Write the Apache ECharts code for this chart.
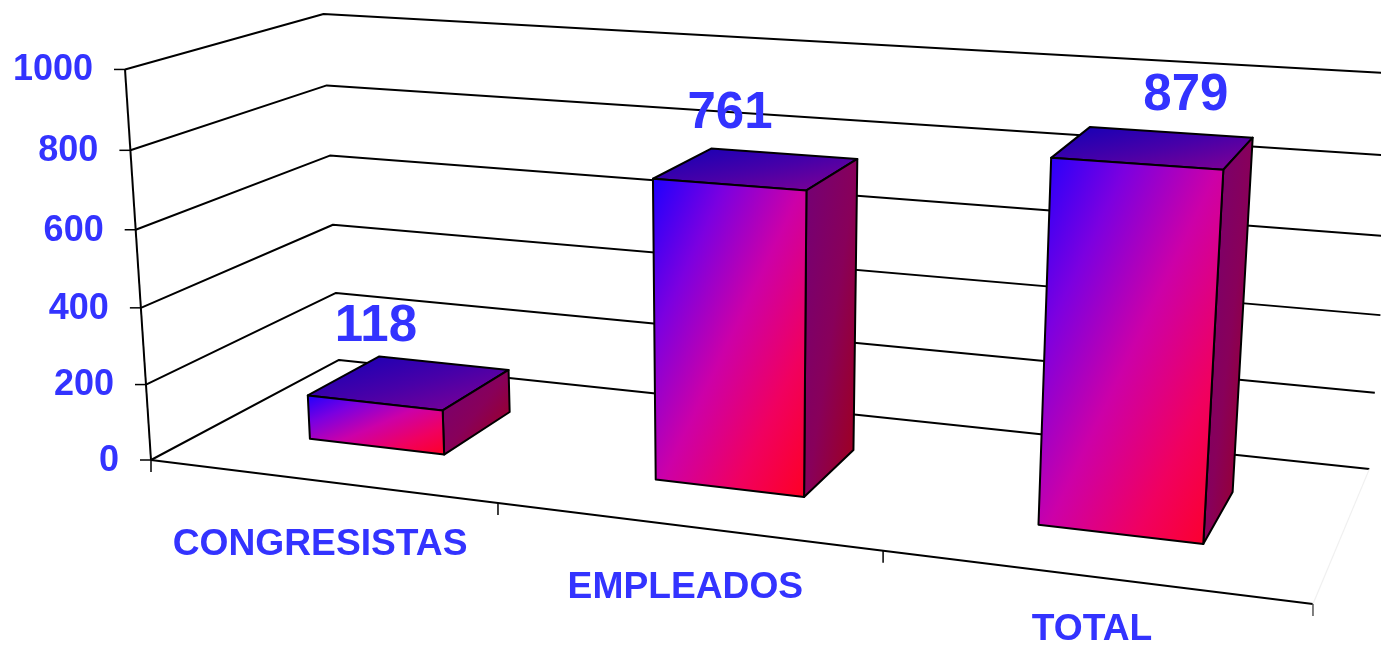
<!DOCTYPE html>
<html>
<head>
<meta charset="utf-8">
<style>html,body{margin:0;padding:0;background:#fff}#c{width:1381px;height:646px}</style>
<script src="https://cdn.jsdelivr.net/npm/echarts@6/dist/echarts.min.js"></script>
</head>
<body>
<div id="c"></div>
<script>
// ---- data ----
const categories = ['CONGRESISTAS', 'EMPLEADOS', 'TOTAL'];
const values = [118, 761, 879];
const yTicks = [0, 200, 400, 600, 800, 1000];

// ---- camera: homogeneous projection of the chart box (u along, v deep, h up; each 0..1) ----
const CAM = {
  u: [967, 54.3, -0.1485],
  v: [234.07, -51.1, 0.1359],
  h: [-31.3, -393.5, -0.0425],
  o: [151, 460, 1]
};
function project(u, v, h) {
  const p = [0, 1, 2].map(i => CAM.u[i] * u + CAM.v[i] * v + CAM.h[i] * h + CAM.o[i]);
  return [p[0] / p[2], p[1] / p[2]];
}

// ---- style and layout ----
const BLUE = '#3333ff';
const FONT = 'bold {s}px "Liberation Sans", Arial, sans-serif';
const font = s => FONT.replace('{s}', s);
const LINE = { stroke: '#000', lineWidth: 2, fill: 'none', lineJoin: 'round' };
const BAR_FRACTION = 0.4, DEPTH_FRONT = 0.3, DEPTH_BACK = 0.7;
const VALUE_LABEL_NUDGE = [[-34, -56], [-27, -55], [32, -52]];
const CAT_LABEL_NUDGE = [[0, 64], [0, 62], [0, 53]];

// corner-to-corner gradient whose colour bands run parallel to the box's other diagonal
function grad(pts, stops) {
  const xs = pts.map(p => p[0]), ys = pts.map(p => p[1]);
  const w = Math.max(...xs) - Math.min(...xs), h = Math.max(...ys) - Math.min(...ys);
  const n = h * h + w * w;
  return new echarts.graphic.LinearGradient(0, 0, 2 * h * h / n, 2 * w * w / n,
    stops.map((color, i) => ({ offset: i / (stops.length - 1), color })));
}

// turn a data item into box coordinates using the (hidden) cartesian axes
function toBox(api, params, cat, val) {
  const cs = params.coordSys;
  const pt = api.coord([cat, val]);
  return { u: (pt[0] - cs.x) / cs.width, h: 1 - (pt[1] - cs.y) / cs.height, band: api.size([1, 0])[0] / cs.width };
}
const line = (pts, st) => ({ type: 'polyline', silent: true, shape: { points: pts }, style: Object.assign({}, LINE, st || {}) });
const text = (x, y, t, size, align) => ({ type: 'text', silent: true, x, y,
  style: { text: t, font: font(size), fill: BLUE, align: align || 'center', verticalAlign: 'middle' } });

function renderGrid(params, api) {
  const b = toBox(api, params, 0, api.value(1));
  const a = project(0, 0, b.h), c = project(0, 1, b.h), d = project(1, 1, b.h);
  return { type: 'group', children: [
    line([a, c, d]),
    line([[a[0] - 11, a[1]], a], { lineWidth: 1.5 }),
    text(a[0] - 32, a[1] + 1, String(api.value(1)), 36, 'right')
  ] };
}

function renderFrame() {
  return { type: 'group', children: [
    line([project(0, 0, 0), project(0, 0, 1)]),
    line([project(0, 0, 0), project(1, 0, 0)]),
    line([project(1, 0, 0), project(1, 1, 0)], { stroke: '#f0f0f0', lineWidth: 1.2 })
  ] };
}

function renderCategory(params, api) {
  const i = api.value(0);
  const b = toBox(api, params, i, 0);
  const children = [];
  const l = b.u - b.band / 2, r = b.u + b.band / 2;
  const t0 = project(l, 0, 0);
  children.push(line([t0, [t0[0], t0[1] + 12]], { lineWidth: 1.5 }));
  if (i === categories.length - 1) {
    const t1 = project(r, 0, 0);
    children.push(line([t1, [t1[0], t1[1] + 12]], { stroke: '#555', lineWidth: 1.5 }));
  }
  const c = project(b.u, 0, 0), n = CAT_LABEL_NUDGE[i];
  children.push(text(c[0] + n[0], c[1] + n[1], categories[i], 37.2));
  return { type: 'group', children };
}

function renderBar(params, api) {
  const i = api.value(0);
  const b = toBox(api, params, i, api.value(1));
  const l = b.u - b.band * BAR_FRACTION / 2, r = b.u + b.band * BAR_FRACTION / 2;
  const f = DEPTH_FRONT, k = DEPTH_BACK, h = b.h;
  const face = (pts, stops) => ({ type: 'polygon', silent: true, shape: { points: pts },
    style: { fill: grad(pts, stops), stroke: '#000', lineWidth: 2, lineJoin: 'round' } });
  return { type: 'group', children: [
    face([project(l, f, h), project(l, k, h), project(r, k, h), project(r, f, h)],
      ['#1000b8', '#4800a8', '#8a0090']),
    face([project(r, f, h), project(r, k, h), project(r, k, 0), project(r, f, 0)],
      ['#720078', '#88005a', '#a50010']),
    face([project(l, f, h), project(r, f, h), project(r, f, 0), project(l, f, 0)],
      ['#1c00ff', '#7c00e0', '#cc00a8', '#f00060', '#ff0020'])
  ] };
}

function renderValueLabel(params, api) {
  const i = api.value(0);
  const b = toBox(api, params, i, api.value(1));
  const c = project(b.u, 0.5, b.h), n = VALUE_LABEL_NUDGE[i];
  return text(c[0] + n[0], c[1] + n[1], String(api.value(1)), 51);
}

const chart = echarts.init(document.getElementById('c'), null, { renderer: 'canvas' });
const barData = values.map((v, i) => [i, v]);
const custom = (name, renderItem, data, z) => ({ type: 'custom', name, renderItem, data, z,
  encode: { x: 0, y: 1 }, clip: false, silent: true, animation: false });
chart.setOption({
  animation: false,
  backgroundColor: '#fff',
  grid: { left: 0, right: 0, top: 0, bottom: 0 },
  xAxis: { type: 'category', data: categories, show: false },
  yAxis: { type: 'value', min: 0, max: 1000, interval: 200, show: false },
  series: [
    custom('grid', renderGrid, yTicks.map(t => [0, t]), 1),
    custom('frame', renderFrame, [[0, 0]], 2),
    custom('categories', renderCategory, categories.map((c, i) => [i, 0]), 3),
    custom('bars', renderBar, barData, 4),
    custom('values', renderValueLabel, barData, 5)
  ]
});
</script>
</body>
</html>
